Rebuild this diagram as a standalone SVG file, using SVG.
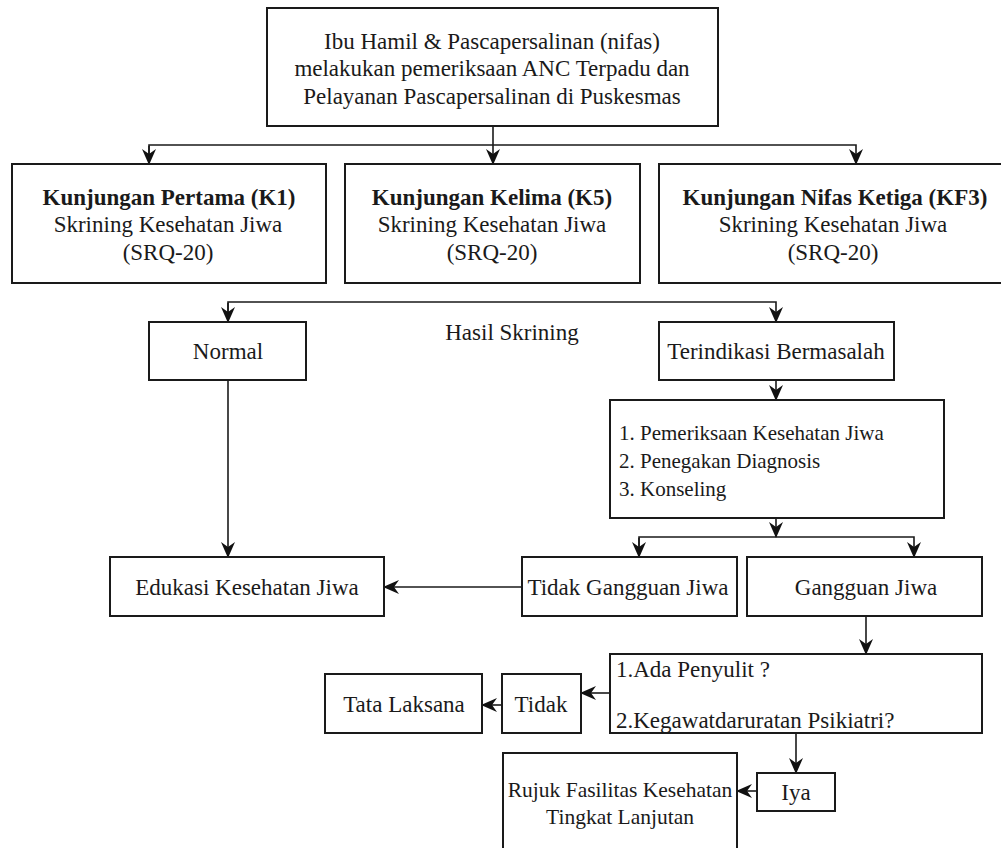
<svg xmlns="http://www.w3.org/2000/svg" width="1001" height="848" viewBox="0 0 1001 848">
<defs>
<style>
.box{fill:#fff;stroke:#1a1a1a;stroke-width:2}
.t{font-family:"Liberation Serif","Times New Roman",serif;font-size:23px;fill:#1a1a1a}
.c{text-anchor:middle}
.b{font-weight:bold}
.s{font-size:21px}
.ln{fill:none;stroke:#1a1a1a;stroke-width:1.6}
</style>
<marker id="ah" viewBox="0 0 16 14" refX="15" refY="7" markerWidth="16" markerHeight="14" markerUnits="userSpaceOnUse" orient="auto">
<path d="M0,0 L16,7 L0,14 L5,7 Z" fill="#111"/>
</marker>
</defs>
<rect width="1001" height="848" fill="#fff"/>

<g id="connectors">
<path class="ln" d="M493,126 V164" marker-end="url(#ah)"/>
<path class="ln" d="M149,164 V145 H856 V164" marker-end="url(#ah)"/>
<path class="ln" d="M149,146 V164" marker-end="url(#ah)"/>
<path class="ln" d="M228,322 V302 H776 V322" marker-end="url(#ah)"/>
<path class="ln" d="M228,303 V322" marker-end="url(#ah)"/>
<path class="ln" d="M776,380 V400" marker-end="url(#ah)"/>
<path class="ln" d="M776,518 V537"  marker-end="url(#ah)"/>
<path class="ln" d="M639,557 V537 H914 V557" marker-end="url(#ah)"/>
<path class="ln" d="M639,538 V557" marker-end="url(#ah)"/>
<path class="ln" d="M228,380 V557" marker-end="url(#ah)"/>
<path class="ln" d="M522,587 H384" marker-end="url(#ah)"/>
<path class="ln" d="M866,616 V654" marker-end="url(#ah)"/>
<path class="ln" d="M610,693 H581" marker-end="url(#ah)"/>
<path class="ln" d="M502,705 H482" marker-end="url(#ah)"/>
<path class="ln" d="M796,733 V773" marker-end="url(#ah)"/>
<path class="ln" d="M757,791 H737" marker-end="url(#ah)"/>
</g>

<g id="n-top">
<rect class="box" x="267" y="8" width="451" height="118"/>
<text class="t c" x="492" y="49">Ibu Hamil &amp; Pascapersalinan (nifas)</text>
<text class="t c" x="492" y="76">melakukan pemeriksaan ANC Terpadu dan</text>
<text class="t c" x="492" y="104">Pelayanan Pascapersalinan di Puskesmas</text>
</g>

<g id="n-k1">
<rect class="box" x="12" y="164" width="314" height="119"/>
<text class="t c b" x="169" y="205">Kunjungan Pertama (K1)</text>
<text class="t c" x="168" y="232">Skrining Kesehatan Jiwa</text>
<text class="t c" x="168" y="260">(SRQ-20)</text>
</g>

<g id="n-k5">
<rect class="box" x="345" y="164" width="295" height="119"/>
<text class="t c b" x="492" y="205">Kunjungan Kelima (K5)</text>
<text class="t c" x="492" y="232">Skrining Kesehatan Jiwa</text>
<text class="t c" x="492" y="260">(SRQ-20)</text>
</g>

<g id="n-kf3">
<rect class="box" x="659" y="164" width="360" height="119"/>
<text class="t c b" x="835" y="205">Kunjungan Nifas Ketiga (KF3)</text>
<text class="t c" x="833" y="232">Skrining Kesehatan Jiwa</text>
<text class="t c" x="833" y="260">(SRQ-20)</text>
</g>

<g id="l-hasil">
<text class="t c" x="512" y="340">Hasil Skrining</text>
</g>

<g id="n-normal">
<rect class="box" x="149" y="322" width="157" height="58"/>
<text class="t c" x="228" y="359">Normal</text>
</g>

<g id="n-terindikasi">
<rect class="box" x="659" y="322" width="235" height="58"/>
<text class="t c" x="776" y="359">Terindikasi Bermasalah</text>
</g>

<g id="n-list">
<rect class="box" x="610" y="400" width="334" height="118"/>
<text class="t s" x="619" y="440">1. Pemeriksaan Kesehatan Jiwa</text>
<text class="t s" x="619" y="468">2. Penegakan Diagnosis</text>
<text class="t s" x="619" y="496">3. Konseling</text>
</g>

<g id="n-edukasi">
<rect class="box" x="110" y="557" width="274" height="59"/>
<text class="t c" x="247" y="595">Edukasi Kesehatan Jiwa</text>
</g>

<g id="n-tidakgangguan">
<rect class="box" x="522" y="557" width="215" height="59"/>
<text class="t c" x="628" y="595">Tidak Gangguan Jiwa</text>
</g>

<g id="n-gangguan">
<rect class="box" x="747" y="557" width="235" height="59"/>
<text class="t c" x="866" y="595">Gangguan Jiwa</text>
</g>

<g id="n-question">
<rect class="box" x="610" y="654" width="372" height="79"/>
<text class="t" x="616" y="677">1.Ada Penyulit ?</text>
<text class="t" x="616" y="728">2.Kegawatdaruratan Psikiatri?</text>
</g>

<g id="n-tidak">
<rect class="box" x="502" y="674" width="79" height="59"/>
<text class="t c" x="541" y="712">Tidak</text>
</g>

<g id="n-tatalaksana">
<rect class="box" x="325" y="674" width="157" height="59"/>
<text class="t c" x="404" y="712">Tata Laksana</text>
</g>

<g id="n-iya">
<rect class="box" x="757" y="773" width="78" height="38"/>
<text class="t c" x="796" y="800">Iya</text>
</g>

<g id="n-rujuk">
<rect class="box" x="503" y="753" width="234" height="110"/>
<text class="t c" x="620" y="797" style="font-size:21.5px">Rujuk Fasilitas Kesehatan</text>
<text class="t c" x="620" y="824" style="font-size:21.5px">Tingkat Lanjutan</text>
</g>
</svg>
